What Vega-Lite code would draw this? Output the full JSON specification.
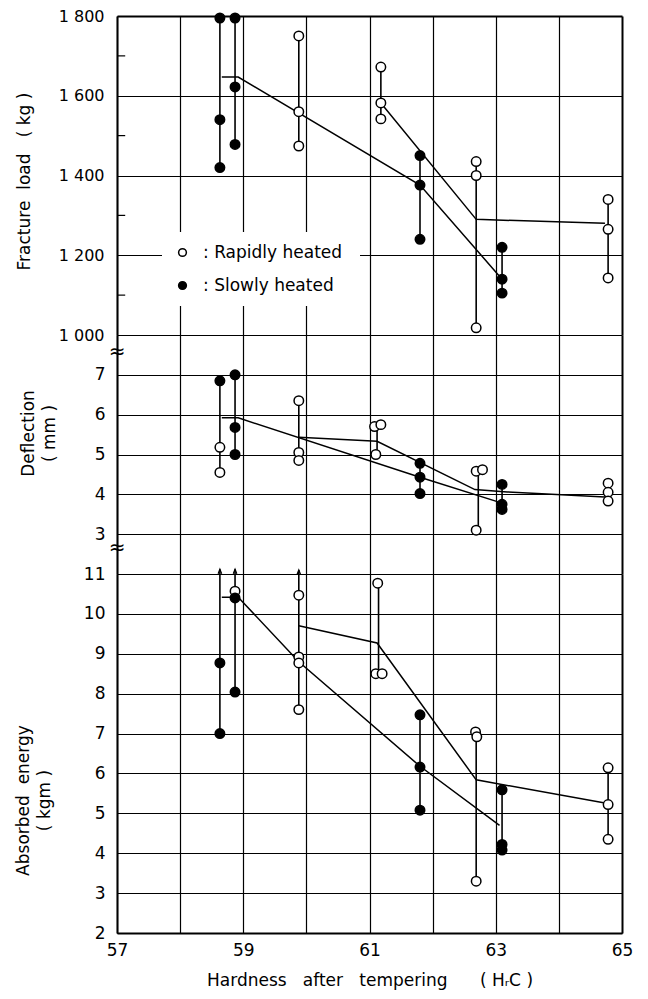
{
  "$schema": "https://vega.github.io/schema/vega-lite/v6.json",
  "background": "white",
  "padding": {"left": 14, "top": 8, "right": 10, "bottom": 4},
  "bounds": "flush",
  "spacing": 0,
  "config": {
    "view": {"stroke": null},
    "font": "DejaVu Sans",
    "axis": {
      "labelFont": "DejaVu Sans", "titleFont": "DejaVu Sans",
      "labelColor": "black", "titleColor": "black", "titleFontWeight": "normal",
      "labelFontSize": 16, "titleFontSize": 17,
      "gridColor": "black", "gridOpacity": 1, "gridWidth": 1.2,
      "domainColor": "black", "domainWidth": 2, "tickColor": "black",
      "labelFlush": false, "labelOverlap": false
    }
  },
  "resolve": {"scale": {"x": "independent", "y": "independent", "fill": "independent"}, "legend": {"fill": "independent"}},
  "datasets": {
    "load": [
      {"g": "A", "x": 58.63, "v": 1795, "heat": "Slowly heated", "kind": "pt"},
      {"g": "A", "x": 58.63, "v": 1540, "heat": "Slowly heated", "kind": "pt"},
      {"g": "A", "x": 58.63, "v": 1420, "heat": "Slowly heated", "kind": "pt"},
      {"g": "B", "x": 58.87, "v": 1795, "heat": "Slowly heated", "kind": "pt"},
      {"g": "B", "x": 58.87, "v": 1622, "heat": "Slowly heated", "kind": "pt"},
      {"g": "B", "x": 58.87, "v": 1478, "heat": "Slowly heated", "kind": "pt"},
      {"g": "C", "x": 59.88, "v": 1750, "heat": "Rapidly heated", "kind": "pt"},
      {"g": "C", "x": 59.88, "v": 1560, "heat": "Rapidly heated", "kind": "pt"},
      {"g": "C", "x": 59.88, "v": 1474, "heat": "Rapidly heated", "kind": "pt"},
      {"g": "D", "x": 61.18, "v": 1672, "heat": "Rapidly heated", "kind": "pt"},
      {"g": "D", "x": 61.18, "v": 1582, "heat": "Rapidly heated", "kind": "pt"},
      {"g": "D", "x": 61.18, "v": 1542, "heat": "Rapidly heated", "kind": "pt"},
      {"g": "E", "x": 61.80, "v": 1450, "heat": "Slowly heated", "kind": "pt"},
      {"g": "E", "x": 61.80, "v": 1376, "heat": "Slowly heated", "kind": "pt"},
      {"g": "E", "x": 61.80, "v": 1240, "heat": "Slowly heated", "kind": "pt"},
      {"g": "F", "x": 62.69, "v": 1435, "heat": "Rapidly heated", "kind": "pt"},
      {"g": "F", "x": 62.69, "v": 1400, "heat": "Rapidly heated", "kind": "pt"},
      {"g": "F", "x": 62.69, "v": 1018, "heat": "Rapidly heated", "kind": "pt"},
      {"g": "G", "x": 63.10, "v": 1220, "heat": "Slowly heated", "kind": "pt"},
      {"g": "G", "x": 63.10, "v": 1140, "heat": "Slowly heated", "kind": "pt"},
      {"g": "G", "x": 63.10, "v": 1105, "heat": "Slowly heated", "kind": "pt"},
      {"g": "H", "x": 64.78, "v": 1340, "heat": "Rapidly heated", "kind": "pt"},
      {"g": "H", "x": 64.78, "v": 1265, "heat": "Rapidly heated", "kind": "pt"},
      {"g": "H", "x": 64.78, "v": 1143, "heat": "Rapidly heated", "kind": "pt"}
    ],
    "load_lines": [
      {"s": "Slowly heated", "x": 58.66, "v": 1647},
      {"s": "Slowly heated", "x": 58.92, "v": 1647},
      {"s": "Slowly heated", "x": 61.80, "v": 1376},
      {"s": "Slowly heated", "x": 63.10, "v": 1140},
      {"s": "Rapidly heated", "x": 61.18, "v": 1582},
      {"s": "Rapidly heated", "x": 62.69, "v": 1290},
      {"s": "Rapidly heated", "x": 64.73, "v": 1280}
    ],
    "load_minor": [
      {"t": 1100}, {"t": 1300}, {"t": 1500}, {"t": 1700}
    ],
    "defl": [
      {"g": "A", "x": 58.63, "v": 6.85, "heat": "Slowly heated", "kind": "pt"},
      {"g": "A", "x": 58.63, "v": 5.18, "heat": "Rapidly heated", "kind": "pt"},
      {"g": "A", "x": 58.63, "v": 4.55, "heat": "Rapidly heated", "kind": "pt"},
      {"g": "B", "x": 58.87, "v": 7.0, "heat": "Slowly heated", "kind": "pt"},
      {"g": "B", "x": 58.87, "v": 5.68, "heat": "Slowly heated", "kind": "pt"},
      {"g": "B", "x": 58.87, "v": 5.0, "heat": "Slowly heated", "kind": "pt"},
      {"g": "C", "x": 59.88, "v": 6.35, "heat": "Rapidly heated", "kind": "pt"},
      {"g": "C", "x": 59.88, "v": 5.05, "heat": "Rapidly heated", "kind": "pt"},
      {"g": "C", "x": 59.88, "v": 4.85, "heat": "Rapidly heated", "kind": "pt"},
      {"g": "D", "x": 61.08, "v": 5.7, "heat": "Rapidly heated", "kind": "pt"},
      {"g": "D", "x": 61.18, "v": 5.75, "heat": "Rapidly heated", "kind": "pt"},
      {"g": "D", "x": 61.10, "v": 5.0, "heat": "Rapidly heated", "kind": "pt"},
      {"g": "E", "x": 61.80, "v": 4.78, "heat": "Slowly heated", "kind": "pt"},
      {"g": "E", "x": 61.80, "v": 4.43, "heat": "Slowly heated", "kind": "pt"},
      {"g": "E", "x": 61.80, "v": 4.02, "heat": "Slowly heated", "kind": "pt"},
      {"g": "F", "x": 62.69, "v": 4.58, "heat": "Rapidly heated", "kind": "pt"},
      {"g": "F", "x": 62.79, "v": 4.62, "heat": "Rapidly heated", "kind": "pt"},
      {"g": "F", "x": 62.69, "v": 3.1, "heat": "Rapidly heated", "kind": "pt"},
      {"g": "G", "x": 63.10, "v": 4.25, "heat": "Slowly heated", "kind": "pt"},
      {"g": "G", "x": 63.10, "v": 3.75, "heat": "Slowly heated", "kind": "pt"},
      {"g": "G", "x": 63.10, "v": 3.62, "heat": "Slowly heated", "kind": "pt"},
      {"g": "H", "x": 64.78, "v": 4.28, "heat": "Rapidly heated", "kind": "pt"},
      {"g": "H", "x": 64.78, "v": 4.05, "heat": "Rapidly heated", "kind": "pt"},
      {"g": "H", "x": 64.78, "v": 3.83, "heat": "Rapidly heated", "kind": "pt"}
    ],
    "defl_lines": [
      {"s": "Slowly heated", "x": 58.66, "v": 5.92},
      {"s": "Slowly heated", "x": 58.92, "v": 5.92},
      {"s": "Slowly heated", "x": 61.80, "v": 4.43},
      {"s": "Slowly heated", "x": 63.10, "v": 3.78},
      {"s": "Rapidly heated", "x": 59.88, "v": 5.43},
      {"s": "Rapidly heated", "x": 61.12, "v": 5.33},
      {"s": "Rapidly heated", "x": 62.67, "v": 4.12},
      {"s": "Rapidly heated", "x": 63.18, "v": 4.06},
      {"s": "Rapidly heated", "x": 64.73, "v": 3.93}
    ],
    "energy": [
      {"g": "A", "x": 58.63, "v": 11.12, "heat": "arrow", "kind": "arrow"},
      {"g": "A", "x": 58.63, "v": 8.77, "heat": "Slowly heated", "kind": "pt"},
      {"g": "A", "x": 58.63, "v": 7.0, "heat": "Slowly heated", "kind": "pt"},
      {"g": "B", "x": 58.87, "v": 11.12, "heat": "arrow", "kind": "arrow"},
      {"g": "B", "x": 58.87, "v": 10.57, "heat": "Rapidly heated", "kind": "pt"},
      {"g": "B", "x": 58.87, "v": 10.4, "heat": "Slowly heated", "kind": "pt"},
      {"g": "B", "x": 58.87, "v": 8.04, "heat": "Slowly heated", "kind": "pt"},
      {"g": "C", "x": 59.88, "v": 11.1, "heat": "arrow", "kind": "arrow"},
      {"g": "C", "x": 59.88, "v": 10.47, "heat": "Rapidly heated", "kind": "pt"},
      {"g": "C", "x": 59.88, "v": 8.92, "heat": "Rapidly heated", "kind": "pt"},
      {"g": "C", "x": 59.88, "v": 8.77, "heat": "Rapidly heated", "kind": "pt"},
      {"g": "C", "x": 59.88, "v": 7.6, "heat": "Rapidly heated", "kind": "pt"},
      {"g": "D", "x": 61.13, "v": 10.77, "heat": "Rapidly heated", "kind": "pt"},
      {"g": "D", "x": 61.10, "v": 8.5, "heat": "Rapidly heated", "kind": "pt"},
      {"g": "D", "x": 61.20, "v": 8.5, "heat": "Rapidly heated", "kind": "pt"},
      {"g": "E", "x": 61.80, "v": 7.47, "heat": "Slowly heated", "kind": "pt"},
      {"g": "E", "x": 61.80, "v": 6.16, "heat": "Slowly heated", "kind": "pt"},
      {"g": "E", "x": 61.80, "v": 5.08, "heat": "Slowly heated", "kind": "pt"},
      {"g": "F", "x": 62.68, "v": 7.04, "heat": "Rapidly heated", "kind": "pt"},
      {"g": "F", "x": 62.70, "v": 6.92, "heat": "Rapidly heated", "kind": "pt"},
      {"g": "F", "x": 62.69, "v": 3.3, "heat": "Rapidly heated", "kind": "pt"},
      {"g": "G", "x": 63.10, "v": 5.59, "heat": "Slowly heated", "kind": "pt"},
      {"g": "G", "x": 63.10, "v": 4.22, "heat": "Slowly heated", "kind": "pt"},
      {"g": "G", "x": 63.10, "v": 4.08, "heat": "Slowly heated", "kind": "pt"},
      {"g": "H", "x": 64.78, "v": 6.14, "heat": "Rapidly heated", "kind": "pt"},
      {"g": "H", "x": 64.78, "v": 5.22, "heat": "Rapidly heated", "kind": "pt"},
      {"g": "H", "x": 64.78, "v": 4.35, "heat": "Rapidly heated", "kind": "pt"}
    ],
    "energy_lines": [
      {"s": "Slowly heated", "x": 58.66, "v": 10.42},
      {"s": "Slowly heated", "x": 58.92, "v": 10.42},
      {"s": "Slowly heated", "x": 59.88, "v": 8.8},
      {"s": "Slowly heated", "x": 61.80, "v": 6.18},
      {"s": "Slowly heated", "x": 63.06, "v": 4.7},
      {"s": "Rapidly heated", "x": 59.88, "v": 9.7},
      {"s": "Rapidly heated", "x": 61.12, "v": 9.27},
      {"s": "Rapidly heated", "x": 62.69, "v": 5.84},
      {"s": "Rapidly heated", "x": 64.73, "v": 5.26}
    ]
  },
  "vconcat": [
    {
      "width": 505,
      "height": 319,
      "layer": [
        {
          "data": {"name": "load"},
          "mark": {"type": "rule", "color": "black", "strokeWidth": 1.6},
          "encoding": {
            "x": {"aggregate": "mean", "field": "x", "type": "quantitative", "scale": {"domain": [57, 65], "nice": false},
              "axis": {"values": [57, 58, 59, 60, 61, 62, 63, 64, 65], "labels": false, "ticks": false, "domain": false, "title": null, "grid": true,
                "gridWidth": {"condition": {"test": "datum.value == 65", "value": 2}, "value": 1.2}}},
            "y": {"aggregate": "min", "field": "v", "type": "quantitative", "title": "Fracture\u00a0 load\u00a0\u00a0 ( kg )", "scale": {"domain": [1000, 1800], "nice": false},
              "axis": {"values": [1000, 1200, 1400, 1600, 1800],
                "labelExpr": "'1 ' + substring(toString(datum.value), 1)",
                "gridWidth": {"condition": {"test": "datum.value == 1800", "value": 2}, "value": 1.2},
                "ticks": false, "labelPadding": 13,
                "title": "Fracture\u00a0 load\u00a0\u00a0 ( kg )", "titlePadding": 25, "titleY": 165}},
            "y2": {"aggregate": "max", "field": "v"},
            "detail": {"field": "g"}
          }
        },
        {
          "data": {"name": "load_minor"},
          "mark": {"type": "rule", "color": "black", "strokeWidth": 1.2},
          "encoding": {
            "x": {"datum": 57},
            "x2": {"datum": 57.13},
            "y": {"field": "t", "type": "quantitative", "title": "Fracture\u00a0 load\u00a0\u00a0 ( kg )"}
          }
        },
        {
          "data": {"name": "load_lines"},
          "mark": {"type": "line", "color": "black", "strokeWidth": 1.5},
          "encoding": {
            "x": {"field": "x", "type": "quantitative"},
            "y": {"field": "v", "type": "quantitative", "title": "Fracture\u00a0 load\u00a0\u00a0 ( kg )"},
            "detail": {"field": "s"}
          }
        },
        {
          "data": {"name": "load"},
          "mark": {"type": "point", "shape": "circle", "filled": true, "stroke": "black", "strokeWidth": 1.5, "size": 90, "opacity": 1},
          "encoding": {
            "x": {"field": "x", "type": "quantitative"},
            "y": {"field": "v", "type": "quantitative", "title": "Fracture\u00a0 load\u00a0\u00a0 ( kg )"},
            "fill": {"field": "heat", "type": "nominal",
              "scale": {"domain": ["Rapidly heated", "Slowly heated"], "range": ["white", "black"]},
              "legend": {"orient": "none", "legendX": 45, "legendY": 216, "title": null, "fillColor": "white", "padding": 12,
                "labelFontSize": 17, "labelFont": "DejaVu Sans", "labelColor": "black", "labelExpr": "':  ' + datum.label",
                "symbolType": "circle", "symbolSize": 60, "symbolStrokeColor": "black", "symbolStrokeWidth": 1.5,
                "rowPadding": 15, "labelOffset": 12}}
          }
        }
      ]
    },
    {
      "width": 505,
      "height": 239,
      "layer": [
        {
          "data": {"name": "defl"},
          "mark": {"type": "rule", "color": "black", "strokeWidth": 1.6},
          "encoding": {
            "x": {"aggregate": "mean", "field": "x", "type": "quantitative", "scale": {"domain": [57, 65], "nice": false},
              "axis": {"values": [57, 58, 59, 60, 61, 62, 63, 64, 65], "labels": false, "ticks": false, "domain": false, "title": null, "grid": true,
                "gridWidth": {"condition": {"test": "datum.value == 65", "value": 2}, "value": 1.2}}},
            "y": {"aggregate": "min", "field": "v", "type": "quantitative", "title": ["Deflection", "( mm )"], "scale": {"domain": [2, 8], "nice": false},
              "axis": {"values": [3, 4, 5, 6, 7], "ticks": false, "labelPadding": 12, "labelFontSize": 17, "labelOverlap": false, "title": ["Deflection", "( mm )"], "titlePadding": 36, "titleLineHeight": 21, "titleY": 98}},
            "y2": {"aggregate": "max", "field": "v"},
            "detail": {"field": "g"}
          }
        },
        {
          "data": {"name": "defl_lines"},
          "mark": {"type": "line", "color": "black", "strokeWidth": 1.5},
          "encoding": {
            "x": {"field": "x", "type": "quantitative"},
            "y": {"field": "v", "type": "quantitative", "title": ["Deflection", "( mm )"]},
            "detail": {"field": "s"}
          }
        },
        {
          "data": {"name": "defl"},
          "mark": {"type": "point", "shape": "circle", "filled": true, "stroke": "black", "strokeWidth": 1.5, "size": 90, "opacity": 1},
          "encoding": {
            "x": {"field": "x", "type": "quantitative"},
            "y": {"field": "v", "type": "quantitative", "title": ["Deflection", "( mm )"]},
            "fill": {"field": "heat", "type": "nominal",
              "scale": {"domain": ["Rapidly heated", "Slowly heated"], "range": ["white", "black"]}, "legend": null}
          }
        },
        {
          "data": {"values": [{}]},
          "mark": {"type": "text", "text": "≈", "fontSize": 20, "align": "center", "baseline": "middle", "color": "black"},
          "encoding": {"x": {"datum": 57}, "y": {"datum": 7.57}}
        },
        {
          "data": {"values": [{}]},
          "mark": {"type": "text", "text": "≈", "fontSize": 20, "align": "center", "baseline": "middle", "color": "black"},
          "encoding": {"x": {"datum": 57}, "y": {"datum": 2.65}}
        }
      ]
    },
    {
      "width": 505,
      "height": 359,
      "layer": [
        {
          "data": {"name": "energy"},
          "mark": {"type": "rule", "color": "black", "strokeWidth": 1.6},
          "encoding": {
            "x": {"aggregate": "mean", "field": "x", "type": "quantitative", "scale": {"domain": [57, 65], "nice": false},
              "axis": {"values": [57, 58, 59, 60, 61, 62, 63, 64, 65], "labelExpr": "datum.value % 2 == 1 ? format(datum.value, 'd') : ''",
                "grid": true, "ticks": false, "domain": true, "labelPadding": 9, "labelFontSize": 17,
                "gridWidth": {"condition": {"test": "datum.value == 65", "value": 2}, "value": 1.2},
                "title": "Hardness\u00a0\u00a0 after\u00a0\u00a0 tempering\u00a0\u00a0\u00a0\u00a0\u00a0 ( H\u1d63C )", "titleFontSize": 17, "titlePadding": 14}},
            "y": {"aggregate": "min", "field": "v", "type": "quantitative", "scale": {"domain": [2, 11], "nice": false},
              "axis": {"values": [2, 3, 4, 5, 6, 7, 8, 9, 10, 11], "tickCount": 10, "ticks": false, "labelPadding": 12, "labelFontSize": 17, "labelOverlap": false,
                "title": ["Absorbed\u00a0 energy", "( kgm )"], "titlePadding": 30, "titleLineHeight": 21, "titleY": 226}},
            "y2": {"aggregate": "max", "field": "v"},
            "detail": {"field": "g"}
          }
        },
        {
          "data": {"name": "energy_lines"},
          "mark": {"type": "line", "color": "black", "strokeWidth": 1.5},
          "encoding": {
            "x": {"field": "x", "type": "quantitative"},
            "y": {"field": "v", "type": "quantitative",
              "axis": {"values": [2, 3, 4, 5, 6, 7, 8, 9, 10, 11], "tickCount": 10, "ticks": false, "labelPadding": 12, "labelFontSize": 17, "labelOverlap": false,
                "title": ["Absorbed\u00a0 energy", "( kgm )"], "titlePadding": 30, "titleLineHeight": 21, "titleY": 226}},
            "detail": {"field": "s"}
          }
        },
        {
          "data": {"name": "energy"},
          "transform": [{"filter": "datum.kind == 'arrow'"}],
          "mark": {"type": "point", "shape": "M-0.35,0.9L0,0L0.35,0.9", "filled": false, "stroke": "black", "strokeWidth": 1.3, "size": 100, "opacity": 1},
          "encoding": {
            "x": {"field": "x", "type": "quantitative"},
            "y": {"field": "v", "type": "quantitative",
              "axis": {"values": [2, 3, 4, 5, 6, 7, 8, 9, 10, 11], "tickCount": 10, "ticks": false, "labelPadding": 12, "labelFontSize": 17, "labelOverlap": false,
                "title": ["Absorbed\u00a0 energy", "( kgm )"], "titlePadding": 30, "titleLineHeight": 21, "titleY": 226}}
          }
        },
        {
          "data": {"name": "energy"},
          "transform": [{"filter": "datum.kind == 'pt'"}],
          "mark": {"type": "point", "shape": "circle", "filled": true, "stroke": "black", "strokeWidth": 1.5, "size": 90, "opacity": 1},
          "encoding": {
            "x": {"field": "x", "type": "quantitative"},
            "y": {"field": "v", "type": "quantitative",
              "axis": {"values": [2, 3, 4, 5, 6, 7, 8, 9, 10, 11], "tickCount": 10, "ticks": false, "labelPadding": 12, "labelFontSize": 17, "labelOverlap": false,
                "title": ["Absorbed\u00a0 energy", "( kgm )"], "titlePadding": 30, "titleLineHeight": 21, "titleY": 226}},
            "fill": {"field": "heat", "type": "nominal",
              "scale": {"domain": ["Rapidly heated", "Slowly heated"], "range": ["white", "black"]}, "legend": null}
          }
        }
      ]
    }
  ]
}
